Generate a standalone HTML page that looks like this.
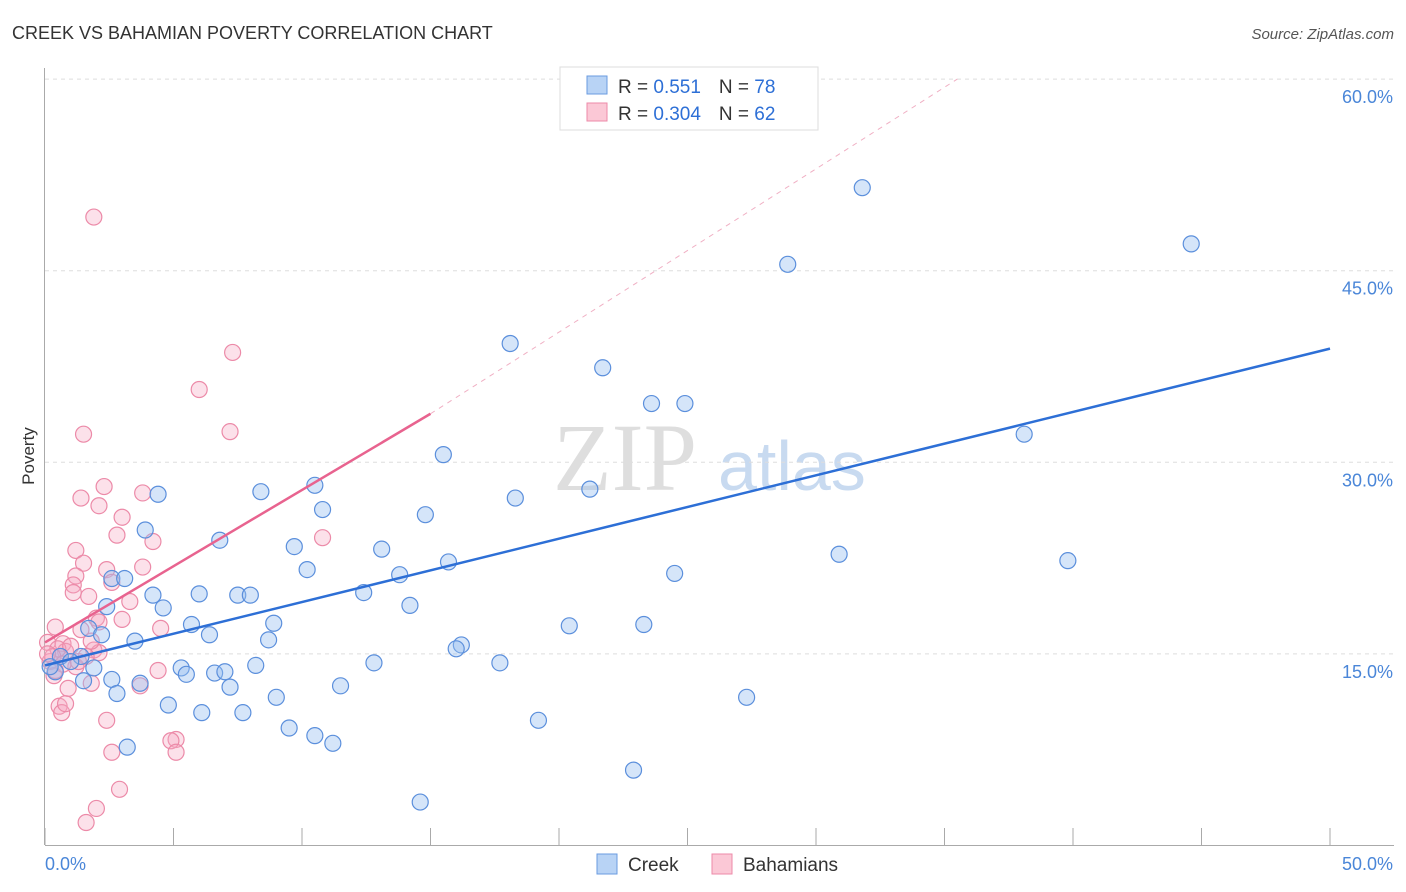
<!DOCTYPE html>
<html><head><meta charset="utf-8"><style>
body{margin:0;background:#fff;font-family:"Liberation Sans",sans-serif;}
svg{display:block}
</style></head><body>
<svg id="c" width="1406" height="892">
<text x="12" y="39" font-size="18" fill="#333">CREEK VS BAHAMIAN POVERTY CORRELATION CHART</text>
<text x="1394" y="39" font-size="15" fill="#555" font-style="italic" text-anchor="end">Source: ZipAtlas.com</text>
<text x="34" y="456" font-size="17" fill="#333" text-anchor="middle" transform="rotate(-90 34 456)">Poverty</text>
<text x="553" y="490" font-size="96" fill="#dedede" font-family="Liberation Serif">ZIP</text>
<text x="718" y="490" font-size="70" fill="#c8daf0">atlas</text>
<g id="grid"></g><g id="pts"></g><g id="lines"></g>
<g>
<rect x="560" y="67" width="258" height="63" fill="#fff" stroke="#ddd"/>
<rect x="587" y="76" width="20" height="18" fill="#b8d3f5" stroke="#6a9be0"/>
<rect x="587" y="103" width="20" height="18" fill="#fbc8d6" stroke="#ec8aa8"/>
<text x="618" y="93" font-size="19" fill="#333">R = <tspan fill="#2d6fd6"> 0.551</tspan><tspan dx="18">N = </tspan><tspan fill="#2d6fd6">78</tspan></text>
<text x="618" y="120" font-size="19" fill="#333">R = <tspan fill="#2d6fd6">0.304</tspan><tspan dx="18">N = </tspan><tspan fill="#2d6fd6">62</tspan></text>
</g>
<g>
<rect x="597" y="854" width="20" height="20" fill="#b8d3f5" stroke="#6a9be0"/>
<text x="628" y="871" font-size="19" fill="#333">Creek</text>
<rect x="712" y="854" width="20" height="20" fill="#fbc8d6" stroke="#ec8aa8"/>
<text x="743" y="871" font-size="19" fill="#333">Bahamians</text>
</g>
</svg>
<script>
const yTicks=[15,30,45,60];
const yTickLabels=["15.0%","30.0%","45.0%","60.0%"];
const xTicks=[0,5,10,15,20,25,30,35,40,45,50];
const creekX=[31.8,44.6,28.9,18.1,21.7,23.6,24.9,38.1,15.5,10.5,4.4,8.4,18.3,21.2,10.8,14.8,3.9,6.8,9.7,13.1,15.7,30.9,39.8,10.2,13.8,24.5,2.6,3.1,4.2,6.0,7.5,7.99,12.4,4.6,2.4,14.2,5.7,8.9,20.4,23.3,1.7,2.2,6.4,3.5,8.7,16.2,16.0,1.4,1.9,5.3,5.5,6.6,7.0,8.2,12.8,17.7,2.6,3.7,1.5,7.2,11.5,2.8,9.0,27.3,4.8,6.1,7.7,19.2,9.5,10.5,11.2,3.2,22.9,14.6,0.4,0.6,1.0,0.2];
const creekY=[51.5,47.1,45.5,39.3,37.4,34.6,34.6,32.2,30.6,28.2,27.5,27.7,27.2,27.9,26.3,25.9,24.7,23.9,23.4,23.2,22.2,22.8,22.3,21.6,21.2,21.3,20.9,20.9,19.6,19.7,19.6,19.6,19.8,18.6,18.7,18.8,17.3,17.4,17.2,17.3,17.0,16.5,16.5,16.0,16.1,15.7,15.4,14.8,13.9,13.9,13.4,13.5,13.6,14.1,14.3,14.3,13.0,12.7,12.9,12.4,12.5,11.9,11.6,11.6,11.0,10.4,10.4,9.8,9.2,8.6,8.0,7.7,5.9,3.4,13.6,14.8,14.4,14.0];
const bahX=[1.9,7.3,6.0,7.2,1.5,2.3,3.8,1.4,2.1,3.0,2.8,10.8,4.2,1.2,1.5,3.8,2.4,1.2,1.1,2.6,1.1,1.7,3.3,2.0,3.0,4.5,1.4,0.4,0.1,0.7,1.9,2.1,1.6,0.6,0.2,1.2,4.4,0.35,1.8,0.9,3.7,0.55,0.65,2.4,5.1,4.9,5.1,2.6,2.9,2.0,1.6,0.8,0.5,0.3,1.0,1.3,0.7,0.4,0.1,1.8,0.8,2.1];
const bahY=[49.2,38.6,35.7,32.4,32.2,28.1,27.6,27.2,26.6,25.7,24.3,24.1,23.8,23.1,22.1,21.8,21.6,21.1,20.4,20.6,19.8,19.5,19.1,17.8,17.7,17.0,16.9,17.1,15.9,15.8,15.3,15.1,14.8,14.8,14.4,14.0,13.7,13.3,12.7,12.3,12.5,10.9,10.4,9.8,8.3,8.2,7.3,7.3,4.4,2.9,1.8,15.2,15.4,14.8,15.6,14.4,14.2,13.7,15.0,16.0,11.1,17.5];
const creekLine=[[0,14.1],[50,38.9]];
const bahLine=[[0,15.9],[15,33.8]];
const bahDash=[[15,33.8],[35.5,60]];
const X=v=>45+v*(1285/50), Y=v=>845.5-v*(191.6/15);
const NS="http://www.w3.org/2000/svg";
function mk(t,a,p){const e=document.createElementNS(NS,t);for(const k in a)e.setAttribute(k,a[k]);p.appendChild(e);return e;}
const g=document.getElementById('grid');
yTicks.forEach((t,i)=>{
 const l=mk('line',{x1:45,x2:1394,y1:Y(t),y2:Y(t),stroke:'#ddd','stroke-dasharray':'4,4'},g);
 
 
 const tx=mk('text',{x:1393,y:Y(t)+24,'font-size':18,fill:'#4a86d8','text-anchor':'end'},g);
 tx.textContent=yTickLabels[i];
 
 
});
const ax=mk('line',{x1:44.5,x2:44.5,y1:68,y2:845,stroke:'#aaa'},g);


const bx=mk('line',{x1:45,x2:1394,y1:845.5,y2:845.5,stroke:'#aaa'},g);


xTicks.forEach(t=>{const l=mk('line',{x1:X(t),x2:X(t),y1:828,y2:845,stroke:'#aaa'},g);
 
 });
[[0,"0.0%",'start',45],[50,"50.0%",'end',1393]].forEach(a=>{const t=mk('text',{x:a[3],y:870,'font-size':18,fill:'#4a86d8','text-anchor':a[2]},g);t.textContent=a[1];
 
 });
const p=document.getElementById('pts');
bahX.forEach((v,i)=>{const c=mk('circle',{cx:X(v),cy:Y(bahY[i]),r:8,fill:'rgba(247,170,195,0.35)',stroke:'#ec8aa8','stroke-width':1.2},p);
 
 });
creekX.forEach((v,i)=>{const c=mk('circle',{cx:X(v),cy:Y(creekY[i]),r:8,fill:'rgba(150,190,240,0.4)',stroke:'#5b8fdc','stroke-width':1.2},p);
 
 });
const L=document.getElementById('lines');
const cl=mk('line',{x1:X(creekLine[0][0]),y1:Y(creekLine[0][1]),x2:X(creekLine[1][0]),y2:Y(creekLine[1][1]),stroke:'#2d6fd6','stroke-width':2.5},L);


const bl=mk('line',{x1:X(bahLine[0][0]),y1:Y(bahLine[0][1]),x2:X(bahLine[1][0]),y2:Y(bahLine[1][1]),stroke:'#e8638f','stroke-width':2.5},L);


const bd=mk('line',{x1:X(bahDash[0][0]),y1:Y(bahDash[0][1]),x2:X(bahDash[1][0]),y2:Y(bahDash[1][1]),stroke:'#f0b0c4','stroke-width':1,'stroke-dasharray':'5,5'},L);


</script>
</body></html>
